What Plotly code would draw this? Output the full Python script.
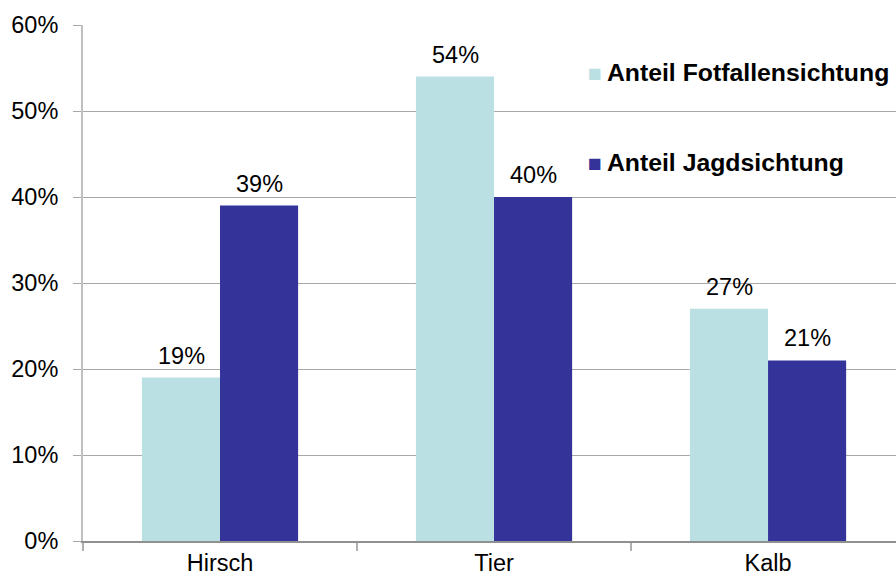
import plotly.graph_objects as go

# Kategorien und Anteile (in Prozent)
kategorien = ["Hirsch", "Tier", "Kalb"]
anteil_fotofalle = [19, 54, 27]
anteil_jagd = [39, 40, 21]
serien_namen = ["Anteil Fotfallensichtung", "Anteil Jagdsichtung"]
y_ticks = [0, 10, 20, 30, 40, 50, 60]
y_tick_text = [f"{v}%" for v in y_ticks]

farbe_hell = "#BBE0E3"
farbe_dunkel = "#333399"
schrift = "Liberation Sans, Arial, sans-serif"
groesse = 23.5

fig = go.Figure()
fig.add_trace(go.Bar(x=kategorien, y=anteil_fotofalle, name=serien_namen[0],
                     marker=dict(color=farbe_hell, line=dict(width=0))))
fig.add_trace(go.Bar(x=kategorien, y=anteil_jagd, name=serien_namen[1],
                     marker=dict(color=farbe_dunkel, line=dict(width=0))))

# Wertbeschriftungen über den Balken
for i, kat in enumerate(kategorien):
    for werte, dx in ((anteil_fotofalle, -39), (anteil_jagd, 39)):
        fig.add_annotation(x=kat, y=werte[i], xref="x", yref="y",
                           text=f"{werte[i]}%", showarrow=False,
                           xshift=dx, yshift=7, yanchor="bottom",
                           font=dict(family=schrift, size=groesse, color="#000000"))

# Legende als Textzeilen mit farbigem Quadrat
for name, farbe, ypos in ((serien_namen[0], farbe_hell, 0.907),
                          (serien_namen[1], farbe_dunkel, 0.733)):
    fig.add_annotation(x=0.619, y=ypos, xref="paper", yref="paper",
                       xanchor="left", yanchor="middle", showarrow=False,
                       text=f'<span style="font-size:23px;color:{farbe}">■</span>\u2009<b>{name}</b>',
                       font=dict(family=schrift, size=24.8, color="#000000"))

fig.update_layout(
    width=896, height=581,
    margin=dict(l=83, r=0, t=25, b=40),
    paper_bgcolor="white", plot_bgcolor="white",
    barmode="group", bargap=0.43, bargroupgap=0,
    showlegend=False,
    font=dict(family=schrift, size=groesse, color="#000000"),
)
fig.update_xaxes(
    range=[-0.5, 2.467], tickson="boundaries", ticks="outside", ticklen=8,
    tickcolor="#B0B0B0", tickwidth=1.5, showline=True, linecolor="#909090",
    linewidth=1.5, showgrid=False, tickfont=dict(size=groesse),
)
fig.update_yaxes(
    range=[0, 60], tickvals=y_ticks, ticktext=y_tick_text,
    ticks="outside", ticklen=8, tickcolor="#A8A8A8", tickwidth=1,
    showgrid=True, gridcolor="#A8A8A8", gridwidth=1,
    showline=True, linecolor="#C0C0C0", linewidth=2,
    zeroline=False, ticklabelstandoff=10, tickfont=dict(size=groesse),
)

fig.write_html("out.html")
